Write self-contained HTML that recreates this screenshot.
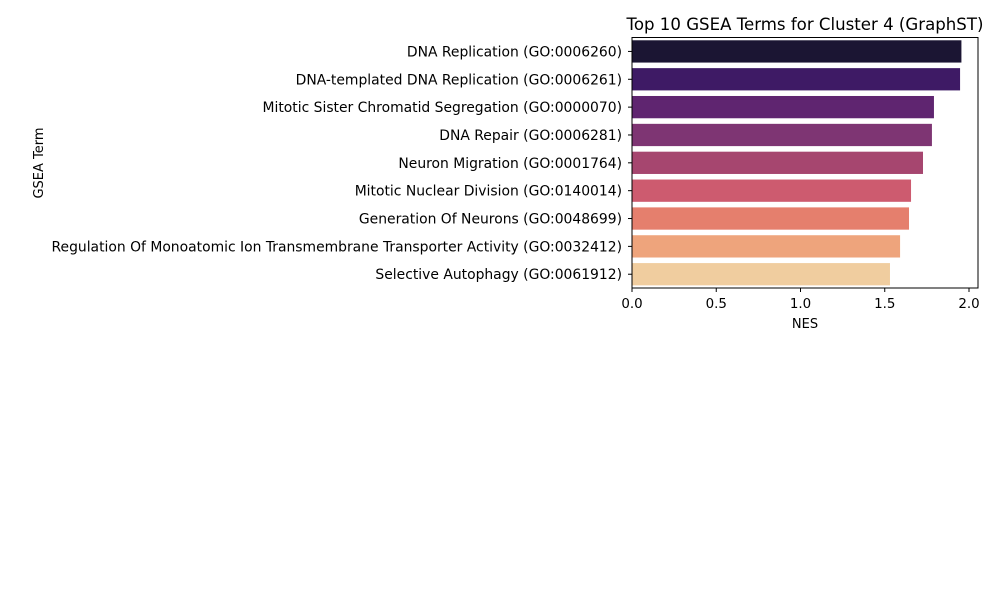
<!DOCTYPE html>
<html><head><meta charset="utf-8"><style>
body{margin:0;background:#fff;}
svg text{font-family:"DejaVu Sans","Liberation Sans",sans-serif;fill:#000;}
</style></head><body>
<svg id="chart" width="996" height="600" xmlns="http://www.w3.org/2000/svg">
<rect width="996" height="600" fill="#fff"/>
<text x="805" y="30" font-size="16.6" text-anchor="middle">Top 10 GSEA Terms for Cluster 4 (GraphST)</text>
<g id="bars"></g>
<g id="ylabels"></g>
<g id="xticks"></g>
<rect x="632" y="37.5" width="346" height="250.5" fill="none" stroke="#000" stroke-width="1"/>
<text x="805" y="328" font-size="13" text-anchor="middle">NES</text>
<text transform="translate(43,163) rotate(-90)" font-size="13" text-anchor="middle">GSEA Term</text>
</svg>
<script>
const categories = ["DNA Replication (GO:0006260)","DNA-templated DNA Replication (GO:0006261)","Mitotic Sister Chromatid Segregation (GO:0000070)","DNA Repair (GO:0006281)","Neuron Migration (GO:0001764)","Mitotic Nuclear Division (GO:0140014)","Generation Of Neurons (GO:0048699)","Regulation Of Monoatomic Ion Transmembrane Transporter Activity (GO:0032412)","Selective Autophagy (GO:0061912)"];
const nesValues = [1.955,1.947,1.792,1.780,1.727,1.656,1.644,1.591,1.531];
const tickValues = [0,0.5,1.0,1.5,2.0];
const tickLabels = ["0.0","0.5","1.0","1.5","2.0"];
const barColors = ["#1b1533","#3e1a65","#5f2570","#7e3573","#a6466f","#cd5b6f","#e57f6d","#eea47c","#f0cd9f"];
const NS="http://www.w3.org/2000/svg";
const x0=632, pxPerUnit=168.5, yTop=37.5, band=27.85;
const xs=v=>x0+v*pxPerUnit;
const yc=i=>yTop+band*(i+0.5);
const gb=document.getElementById('bars'), gl=document.getElementById('ylabels'), gt=document.getElementById('xticks');
categories.forEach((c,i)=>{
  const r=document.createElementNS(NS,'rect');
  
  
  r.setAttribute('x',x0);r.setAttribute('y',yc(i)-band*0.4);
  r.setAttribute('width',xs(nesValues[i])-x0);r.setAttribute('height',band*0.8);
  r.setAttribute('fill',barColors[i]);gb.appendChild(r);
  const tk=document.createElementNS(NS,'line');
  
  
  tk.setAttribute('x1',x0-4);tk.setAttribute('x2',x0);tk.setAttribute('y1',yc(i));tk.setAttribute('y2',yc(i));tk.setAttribute('stroke','#000');gl.appendChild(tk);
  const t=document.createElementNS(NS,'text');
  
  
  t.setAttribute('x',x0-10);t.setAttribute('y',yc(i)+5);t.setAttribute('font-size','13.9');t.setAttribute('text-anchor','end');
  t.textContent=c;gl.appendChild(t);
});
tickValues.forEach((v,i)=>{
  const l=document.createElementNS(NS,'line');
  
  
  l.setAttribute('x1',xs(v));l.setAttribute('x2',xs(v));l.setAttribute('y1',288);l.setAttribute('y2',292);l.setAttribute('stroke','#000');gt.appendChild(l);
  const t=document.createElementNS(NS,'text');
  
  
  t.setAttribute('x',xs(v));t.setAttribute('y',308);t.setAttribute('font-size','13.4');t.setAttribute('text-anchor','middle');
  t.textContent=tickLabels[i];gt.appendChild(t);
});
</script>
</body></html>
